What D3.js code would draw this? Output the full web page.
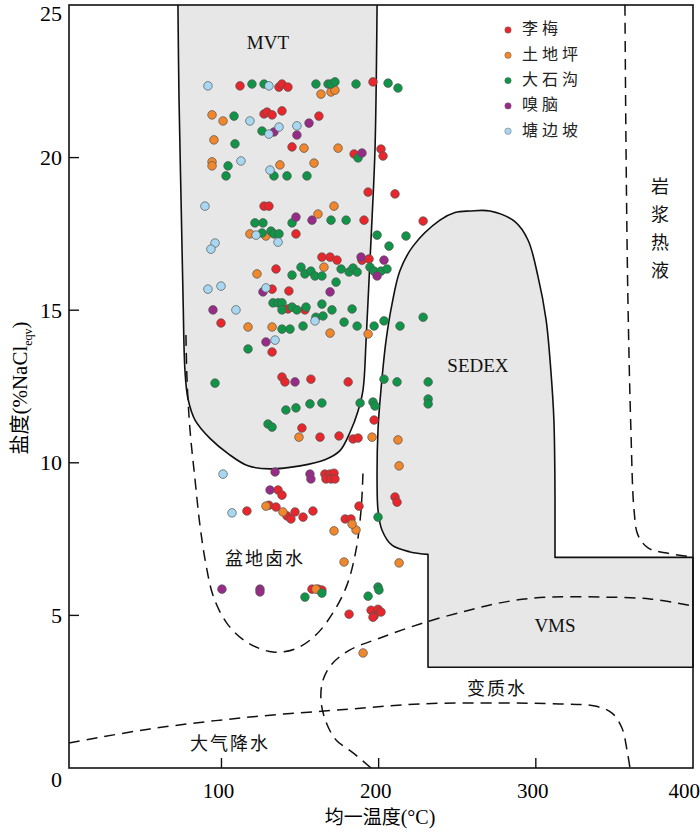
<!DOCTYPE html>
<html><head><meta charset="utf-8">
<script src="https://cdn.jsdelivr.net/npm/d3@7"></script>
<style>body{margin:0;background:#fff}</style>
</head><body>
<svg id="chart" width="700" height="833"></svg>
<script>
// ---------- data ----------
const seriesNames = ["李梅","土地坪","大石沟","嗅脑","塘边坡"];
const seriesColors = ["#e8262b","#f0872c","#109447","#982a88","#a8d8f1"];
const xTicks = [100,200,300,400];
const yTicks = [5,10,15,20,25];

// 李梅 [T(°C), salinity]
const liMei = [[111.8,22.35],[136.6,22.31],[138.5,22.41],[142.3,22.31],[196.4,22.48],[127.1,21.43],[129.0,21.49],[132.2,21.40],[138.5,21.53],[162.0,21.36],[144.9,20.35],[184.4,20.12],[201.5,20.28],[202.8,20.05],[193.3,18.87],[210.4,18.81],[127.1,18.41],[130.2,18.41],[190.7,17.95],[228.3,17.92],[147.4,17.50],[163.9,16.74],[169.1,16.74],[173.5,16.64],[189.4,16.64],[193.9,16.68],[134.7,16.35],[132.2,15.69],[142.9,15.63],[142.3,15.04],[153.1,15.01],[132.2,13.63],[138.5,12.81],[140.4,12.65],[156.9,12.74],[180.6,12.65],[99.7,14.58],
 [151.2,11.14],[162.7,10.84],[174.8,10.88],[183.7,10.78],[186.9,10.81],[197.1,11.40],[165.8,9.63],[169.1,9.63],[171.6,9.66],[166.5,9.47],[169.7,9.47],[172.2,9.47],[136.0,9.11],[138.5,8.94],[116.2,8.42],[130.2,8.61],[134.7,8.55],[141.7,8.26],[144.2,8.16],[146.8,8.39],[151.9,8.22],[158.2,8.42],[178.7,8.16],[182.4,8.16],[187.5,8.58],[210.4,8.88],[211.7,8.71],[157.6,5.86],[161.4,5.86],[163.9,5.83],[181.2,5.04],[195.2,5.17],[197.1,4.98],[199.6,5.20],[201.5,5.11],[196.4,4.94]];
// 土地坪
const tuDiPing = [[163.3,22.08],[169.7,22.15],[172.2,22.21],[94.0,21.40],[101.0,21.20],[152.5,20.31],[174.2,20.31],[95.2,20.58],[137.2,19.76],[158.9,19.82],[94.0,19.86],[94.0,19.73],[171.6,18.41],[161.4,18.15],[118.1,17.50],[128.3,17.43],[122.6,16.19],[165.2,16.41],[116.9,14.45],[132.2,14.45],[169.1,14.25],[193.3,14.22],
 [149.3,10.84],[195.8,10.84],[212.3,10.75],[213.0,9.90],[128.3,8.58],[139.1,8.39],[171.6,7.77],[185.6,7.80],[183.1,7.99],[178.0,6.75],[213.0,6.72],[190.1,3.77],[160.1,5.86]];
// 大石沟
const daShiGou = [[119.4,22.41],[127.1,22.41],[160.1,22.41],[167.8,22.41],[169.7,22.41],[172.2,22.48],[185.6,22.41],[206.0,22.44],[212.3,22.28],[108.0,21.36],[125.8,20.87],[108.6,20.45],[186.9,19.99],[104.2,19.73],[102.9,19.40],[133.4,19.40],[141.7,19.40],[154.4,19.40],[144.9,17.86],[169.7,17.95],[179.3,17.95],[121.3,17.86],[126.4,17.86],[125.8,17.53],[131.5,17.59],[133.4,17.50],[136.6,17.50],[199.0,17.46],[217.4,17.43],[206.6,17.10],[194.5,16.41],[197.1,16.28],[201.5,16.28],[205.3,16.35],[150.6,16.41],[144.9,16.15],[153.1,16.19],[156.9,16.28],[159.5,16.12],[163.9,16.12],[176.1,16.35],[181.2,16.25],[183.7,16.38],[186.3,16.25],[172.9,15.92],[132.8,15.24],[136.0,15.24],[138.5,15.24],[138.5,15.01],[144.9,15.10],[148.0,15.01],[153.8,15.10],[163.9,15.20],[170.3,15.01],[183.1,15.04],[160.1,14.77],[164.6,14.81],[138.5,14.38],[143.6,14.38],[151.9,14.48],[178.0,14.61],[186.3,14.48],[197.1,14.48],[203.4,14.65],[213.6,14.48],[228.3,14.77],[116.9,13.73],[95.9,12.61],[203.4,12.74],[211.7,12.65],[231.5,12.65],
 [141.0,11.73],[147.4,11.80],[156.3,11.93],[163.9,11.96],[129.6,11.27],[132.2,11.17],[188.2,11.96],[196.4,11.99],[197.7,11.86],[231.5,12.09],[231.5,11.93],[199.6,8.22],[199.6,5.93],[200.2,5.83],[153.1,5.60],[163.9,5.73],[193.3,5.63]];
// 嗅脑
const xiuNao = [[133.4,20.84],[148.0,20.74],[155.7,21.13],[189.4,20.15],[147.4,18.05],[157.6,17.95],[188.8,16.74],[203.4,16.64],[199.0,16.12],[126.4,15.60],[169.1,15.60],[128.3,13.96],[146.8,12.65],[94.6,15.01],
 [134.1,9.70],[156.3,9.63],[156.9,9.47],[130.9,9.11],[100.3,5.86],[124.5,5.86],[124.5,5.77]];
// 塘边坡
const tangBianPo = [[91.4,22.35],[130.2,22.35],[118.1,21.20],[130.2,20.77],[136.6,21.00],[148.0,21.04],[112.4,19.89],[130.9,19.59],[89.5,18.41],[95.9,17.20],[93.3,17.00],[122.0,17.46],[136.0,17.23],[91.4,15.69],[99.7,15.79],[109.2,15.01],[128.3,15.73],[159.5,14.65],[134.1,14.02],[101.0,9.63],[106.7,8.36]];
const seriesData = [liMei, tuDiPing, daShiGou, xiuNao, tangBianPo];

// field outlines [T, salinity]
const mvtField = [[72.3,25],[73,21.9],[74.3,18.6],[75.6,15.3],[76.8,13.0],[78.7,12.1],[83.2,11.4],[92.7,10.8],[104.2,10.3],[116.9,9.9],[130.9,9.8],[150,9.9],[165.8,10.1],[175.4,10.4],[181.8,11.0],[186.9,11.7],[190.1,12.4],[192,14.0],[193.9,16.0],[195.8,18.0],[197.7,20.3],[199,25]];
const sedexVmsField = [[231.4,3.3],[400,3.3],[400,6.9],[312.2,6.9],[312.2,8.8],[311.5,11.4],[309.6,13.0],[306.5,14.7],[301.4,16.1],[295,17.3],[286.7,17.9],[270.8,18.25],[258.1,18.25],[248.6,18.2],[239,17.95],[221.9,17.1],[213.6,16.3],[208.5,15.2],[204.7,14.0],[201.5,12.4],[199.6,11.1],[199,9.4],[199.6,8.45],[202.1,7.8],[208.5,7.3],[220,7.08],[231.4,7.0]];
const basinBrine = [[77.4,14.19],[78.1,12.71],[80.0,11.07],[83.2,9.44],[86.3,7.96],[90.2,6.65],[95.2,5.57],[104.2,4.69],[116.9,4.10],[132.8,3.80],[146.8,3.90],[159.5,4.33],[170.9,5.08],[179.9,6.0],[185.6,7.14],[188.8,8.45],[190.1,9.76]];
const meteoric = [[3,0.82],[54.5,1.28],[118.1,1.67],[181.8,1.93],[226.3,2.10],[277.2,2.13],[315.4,2.10],[337.6,2.03],[348.5,1.80],[354.8,1.31],[358.0,0.59],[359.9,0]];
const metamorphic = [[195.2,0],[183.1,0.52],[172.9,0.92],[166.5,1.51],[163.3,2.23],[164.6,2.88],[170.3,3.41],[181.8,3.87],[200.9,4.26],[226.3,4.72],[258.1,5.18],[283.6,5.47],[309.0,5.60],[340.8,5.60],[372.6,5.54],[400,5.31]];
const magmatic = [[356.7,25],[357.4,20.25],[358.6,15.33],[360.5,11.07],[362.5,8.45],[365.0,7.63],[371.4,7.21],[382.2,7.05],[400,6.91]];

// ---------- drawing ----------
const svg = d3.select("#chart");
const x = d3.scaleLinear().domain([3,400]).range([69,693]);
const y = d3.scaleLinear().domain([0,25]).range([768,5]);
const serif = "'Liberation Serif','Times New Roman',serif";
const cjk = "'Noto Sans CJK SC','Noto Sans',sans-serif";

const smooth = d3.line().x(d=>x(d[0])).y(d=>y(d[1])).curve(d3.curveCatmullRom.alpha(0.5));

// MVT field (top open on frame)
svg.append("path").attr("d", smooth(mvtField)+"Z").attr("fill","#e7e7e7").attr("stroke","none");
svg.append("path").attr("d", smooth(mvtField)).attr("fill","none").attr("stroke","#111").attr("stroke-width",1.6);
// SEDEX + VMS
const sv = sedexVmsField;
const rectPart = d3.line().x(d=>x(d[0])).y(d=>y(d[1]))(sv.slice(0,5));
const curvePart = smooth(sv.slice(4));
const svPath = rectPart + curvePart.replace(/^M/,"L") + "Z";
svg.append("path").attr("d", svPath).attr("fill","#e7e7e7").attr("stroke","#111").attr("stroke-width",1.6).attr("stroke-linejoin","round");

// dashed fluid fields
const dash = "11,7";
[basinBrine, meteoric, metamorphic, magmatic].forEach(p=>{
  svg.append("path").attr("d", smooth(p)).attr("fill","none").attr("stroke","#111").attr("stroke-width",1.5).attr("stroke-dasharray",dash);
});

// points
seriesData.forEach((arr,i)=>{
  svg.append("g").selectAll("circle").data(arr).join("circle")
    .attr("cx",d=>x(d[0])).attr("cy",d=>y(d[1])).attr("r",4.3)
    .attr("fill",seriesColors[i]).attr("stroke","#555").attr("stroke-width",0.7);
});

// frame
svg.append("rect").attr("x",x(3)).attr("y",y(25)).attr("width",x(400)-x(3)).attr("height",y(0)-y(25))
  .attr("fill","none").attr("stroke","#111").attr("stroke-width",1.6);

// ticks (inward)
xTicks.filter(t=>t<400).forEach(t=>{
  svg.append("line").attr("x1",x(t)).attr("x2",x(t)).attr("y1",y(0)).attr("y2",y(0)-10).attr("stroke","#111").attr("stroke-width",1.4);
});
yTicks.filter(t=>t<25).forEach(t=>{
  svg.append("line").attr("x1",x(3)).attr("x2",x(3)+10).attr("y1",y(t)).attr("y2",y(t)).attr("stroke","#111").attr("stroke-width",1.4);
});
// tick labels
xTicks.forEach(t=>{
  const last = t===400;
  svg.append("text").attr("x", last ? 700 : x(t)-3).attr("y",y(0)+30).attr("text-anchor", last ? "end" : "middle")
    .attr("font-family",serif).attr("font-size",21).text(t);
});
yTicks.forEach(t=>{
  svg.append("text").attr("x",x(3)-7).attr("y", t===25 ? 21 : y(t)+7.5).attr("text-anchor","end")
    .attr("font-family",serif).attr("font-size",22).text(t);
});
svg.append("text").attr("x",x(3)-7).attr("y",y(0)+19).attr("text-anchor","end")
  .attr("font-family",serif).attr("font-size",22).text("0");

// axis titles
svg.append("text").attr("x",380).attr("y",824).attr("text-anchor","middle")
  .attr("font-family",serif).attr("font-size",20)
  .call(t=>{t.append("tspan").attr("font-family",cjk).attr("font-size",19).text("均一温度");t.append("tspan").text("(°C)");});
const yl = svg.append("text").attr("transform","translate(27,388) rotate(-90)").attr("text-anchor","middle")
  .attr("font-family",serif).attr("font-size",21);
yl.append("tspan").attr("font-family",cjk).attr("font-size",20).text("盐度");
yl.append("tspan").text("(%NaCl");
yl.append("tspan").attr("font-size",12).attr("dy",5).text("eqv");
yl.append("tspan").attr("dy",-5).text(")");

// field labels
const lab = (txt,t,s,fam,size,anchor)=>svg.append("text").attr("x",x(t)).attr("y",y(s)).attr("text-anchor",anchor||"middle")
  .attr("dominant-baseline","middle").attr("font-family",fam).attr("font-size",size).attr("fill","#111").text(txt);
lab("MVT",129.6,23.69,serif,19);
lab("SEDEX",263.2,13.11,serif,19);
lab("VMS",312.2,4.59,serif,19);
lab("盆地卤水",127.7,6.81,cjk,18).attr("letter-spacing",2);
lab("变质水",275.3,2.56,cjk,18).attr("letter-spacing",2);
lab("大气降水",105.4,0.75,cjk,18).attr("letter-spacing",2);
["岩","浆","热","液"].forEach((c,i)=>{
  svg.append("text").attr("x",660).attr("y",188+i*28).attr("text-anchor","middle").attr("dominant-baseline","middle")
    .attr("font-family",cjk).attr("font-size",18).attr("fill","#111").text(c);
});

// legend
const lg = svg.append("g").attr("transform","translate(508,30)");
seriesNames.forEach((n,i)=>{
  const g = lg.append("g").attr("transform",`translate(0,${i*25.3})`);
  g.append("circle").attr("r",3.2).attr("fill",seriesColors[i]).attr("stroke","#666").attr("stroke-width",0.5);
  g.append("text").attr("x",14).attr("y",0).attr("dominant-baseline","middle").attr("font-family",cjk)
    .attr("font-size",16).attr("letter-spacing",4).attr("fill","#222").text(n);
});
</script>
</body></html>
